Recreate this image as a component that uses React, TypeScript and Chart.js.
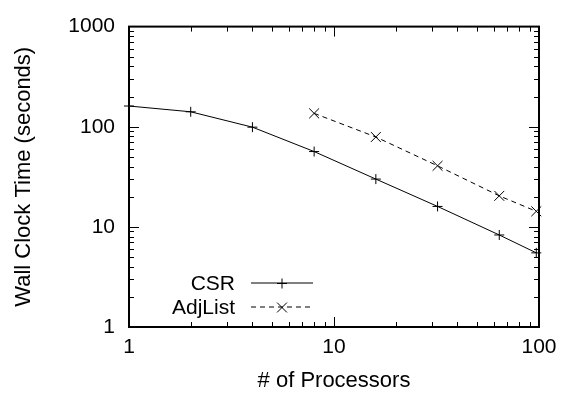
import React, { useEffect, useRef } from 'react';
import { Chart, registerables } from 'chart.js';
Chart.register(...registerables);

const csrProcessors = [1, 2, 4, 8, 16, 32, 64, 97];
const csrTimes = [161, 141, 99, 56.5, 30, 16, 8.3, 5.5];
const adjProcessors = [8, 16, 32, 64, 97];
const adjListTimes = [136, 79, 40.7, 20.4, 14.3];
const xTickLabels = [1, 10, 100];
const yTickLabels = [1, 10, 100, 1000];

const FONT = '"Liberation Sans", Arial, Helvetica, sans-serif';

const isMajor = (v: number) => {
  const l = Math.log10(v);
  return Math.abs(l - Math.round(l)) < 1e-9;
};

function drawMarker(ctx: CanvasRenderingContext2D, style: string, x: number, y: number, r: number) {
  ctx.beginPath();
  if (style === 'cross') {
    ctx.moveTo(x - r, y); ctx.lineTo(x + r, y);
    ctx.moveTo(x, y - r); ctx.lineTo(x, y + r);
  } else {
    const d = r * Math.SQRT1_2;
    ctx.moveTo(x - d, y - d); ctx.lineTo(x + d, y + d);
    ctx.moveTo(x - d, y + d); ctx.lineTo(x + d, y - d);
  }
  ctx.stroke();
}

const framePlugin = {
  id: 'frame',
  afterDatasetsDraw(chart: any) {
    const { ctx, chartArea: a, scales } = chart;
    const xs = scales.x, ys = scales.y;
    ctx.save();
    ctx.strokeStyle = '#000';
    ctx.lineWidth = 1;
    const line = (x1: number, y1: number, x2: number, y2: number) => {
      ctx.beginPath(); ctx.moveTo(x1, y1); ctx.lineTo(x2, y2); ctx.stroke();
    };
    for (let d = 1; d < 100; d *= 10) {
      for (let m = 1; m <= 9; m++) {
        const v = d * m;
        if (v <= 1) continue;
        const px = Math.round(xs.getPixelForValue(v)) + 0.5;
        const len = isMajor(v) ? 10 : 5;
        line(px, a.bottom, px, a.bottom - len);
        line(px, a.top, px, a.top + len);
      }
    }
    for (let d = 1; d < 1000; d *= 10) {
      for (let m = 1; m <= 9; m++) {
        const v = d * m;
        if (v <= 1) continue;
        const py = Math.round(ys.getPixelForValue(v)) + 0.5;
        const len = isMajor(v) ? 10 : 5;
        line(a.left, py, a.left + len, py);
        line(a.right, py, a.right - len, py);
      }
    }
    ctx.lineWidth = 2;
    ctx.strokeRect(a.left, a.top, a.right - a.left, a.bottom - a.top);

    // legend
    ctx.font = `21px ${FONT}`;
    ctx.fillStyle = '#000';
    ctx.textAlign = 'right';
    ctx.textBaseline = 'middle';
    chart.data.datasets.forEach((ds: any, i: number) => {
      const y = a.bottom - 44 + i * 24;
      ctx.fillText(ds.label, a.left + 106, y + 1);
      ctx.lineWidth = 1;
      ctx.setLineDash(ds.borderDash || []);
      line(a.left + 122, y, a.left + 184, y);
      ctx.setLineDash([]);
      drawMarker(ctx, ds.pointStyle, a.left + 153, y + 0.5, ds.pointRadius);
    });
    ctx.restore();
  },
};

export default function App() {
  const ref = useRef<HTMLCanvasElement>(null);
  useEffect(() => {
    document.body.style.margin = '0';
    const chart = new Chart(ref.current!, {
      type: 'line',
      data: {
        datasets: [
          {
            label: 'CSR',
            data: csrProcessors.map((x, i) => ({ x, y: csrTimes[i] })),
            borderColor: '#000',
            backgroundColor: '#000',
            borderWidth: 1,
            pointStyle: 'cross',
            pointRadius: 5,
            pointBorderWidth: 1,
            pointBorderColor: '#000',
            tension: 0,
            fill: false,
            clip: false,
          } as any,
          {
            label: 'AdjList',
            data: adjProcessors.map((x, i) => ({ x, y: adjListTimes[i] })),
            borderColor: '#000',
            backgroundColor: '#000',
            borderWidth: 1,
            borderDash: [5, 4],
            pointStyle: 'crossRot',
            pointRadius: 7,
            pointBorderWidth: 1,
            pointBorderColor: '#000',
            tension: 0,
            fill: false,
            clip: false,
          } as any,
        ],
      },
      options: {
        animation: false,
        responsive: false,
        layout: { padding: { top: 17, right: 27, left: 0, bottom: 0 } },
        plugins: { legend: { display: false }, tooltip: { enabled: false } },
        scales: {
          x: {
            type: 'logarithmic',
            min: 1,
            max: 100,
            grid: { display: false, drawTicks: false },
            border: { display: false },
            afterBuildTicks: (s: any) => { s.ticks = xTickLabels.map((v) => ({ value: v })); },
            afterFit: (s: any) => { s.height = 71; },
            ticks: {
              autoSkip: false,
              maxRotation: 0,
              padding: 8,
              color: '#000',
              font: { family: FONT, size: 21 },
              callback: (v: any) => String(v),
            },
            title: {
              display: true,
              text: '# of Processors',
              color: '#000',
              font: { family: FONT, size: 22 },
              padding: { top: 0, bottom: 4 },
            },
          },
          y: {
            type: 'logarithmic',
            min: 1,
            max: 1000,
            grid: { display: false, drawTicks: false },
            border: { display: false },
            afterBuildTicks: (s: any) => { s.ticks = yTickLabels.map((v) => ({ value: v })); },
            afterFit: (s: any) => { s.width = 129; },
            ticks: {
              autoSkip: false,
              padding: 14,
              color: '#000',
              font: { family: FONT, size: 21 },
              callback: (v: any) => String(v),
            },
            title: {
              display: true,
              text: 'Wall Clock Time (seconds)',
              color: '#000',
              font: { family: FONT, size: 22 },
              padding: { top: 11, bottom: 0 },
            },
          },
        },
      },
      plugins: [framePlugin],
    } as any);
    return () => chart.destroy();
  }, []);
  return (
    <div style={{ position: 'absolute', left: 0, top: 0, width: 566, height: 398 }}>
      <canvas ref={ref} width={566} height={398} />
    </div>
  );
}
